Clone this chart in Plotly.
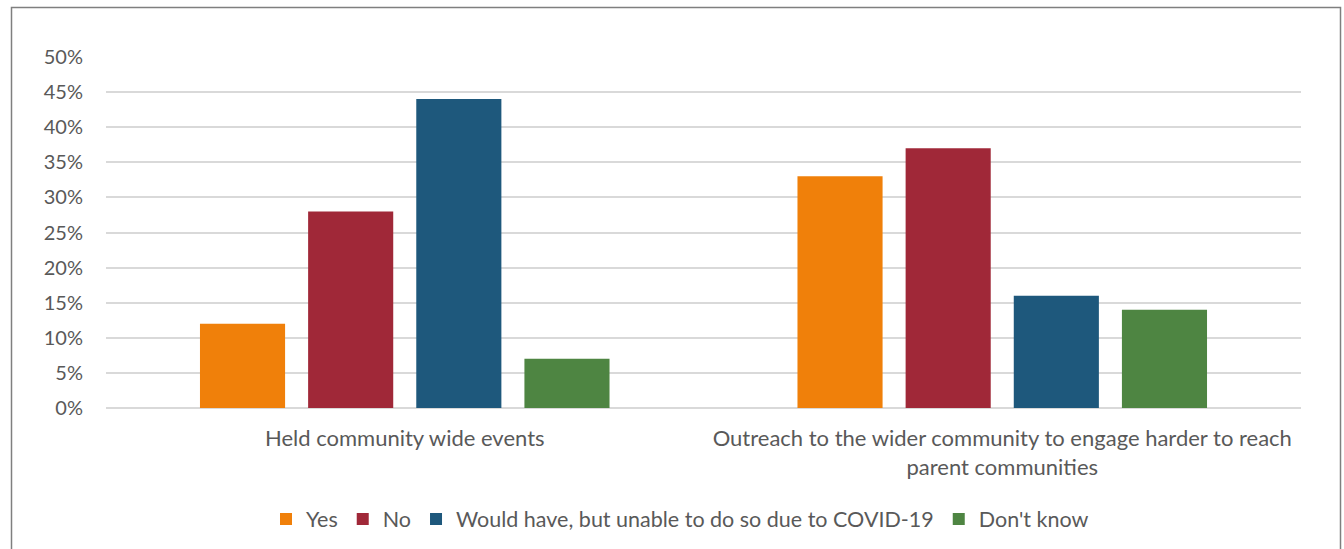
import plotly.graph_objects as go

categories = ["Held community wide events",
              "Outreach to the wider community to engage harder to reach<br>parent communities"]
series_names = ["Yes", "No", "Would have, but unable to do so due to COVID-19", "Don't know"]
yes_vals = [0.12, 0.33]
no_vals = [0.28, 0.37]
would_vals = [0.44, 0.16]
dontknow_vals = [0.07, 0.14]
colors = ["#F0800A", "#A02838", "#1E587C", "#4E8542"]

fig = go.Figure()
for name, vals, c in zip(series_names, [yes_vals, no_vals, would_vals, dontknow_vals], colors):
    fig.add_trace(go.Bar(x=categories, y=vals, name=name, marker=dict(color=c, line=dict(width=0))))

W, H = 1344, 549
l, r, t, b = 106, 43, 57, 141
pw, ph = W - l - r, H - t - b

def px(x):
    return (x - l) / pw

def py(y):
    return (H - b - y) / ph

fig.add_shape(type="rect", xref="paper", yref="paper",
              x0=px(11.5), x1=px(1340.5), y0=py(570), y1=py(7.5),
              line=dict(color="#7F7F7F", width=1.5), fillcolor="rgba(0,0,0,0)", layer="below")

fig.update_layout(
    width=W, height=H,
    margin=dict(l=l, r=r, t=t, b=b, autoexpand=False),
    paper_bgcolor="white", plot_bgcolor="white",
    barmode="group", bargap=0.276, bargroupgap=0.213,
    font=dict(family="Lato", size=21, color="#595959"),
    showlegend=True,
    legend=dict(orientation="h", x=px(680), xanchor="center", y=py(519), yanchor="middle",
                font=dict(size=21.5, color="#595959"), itemwidth=30, traceorder="normal"),
    xaxis=dict(showgrid=False, showline=False, ticks="", ticklabelstandoff=15,
               tickfont=dict(size=22, color="#595959")),
    yaxis=dict(range=[0, 0.5], dtick=0.05, tickformat=".0%", showgrid=True,
               gridcolor="#D9D9D9", gridwidth=1.5, zeroline=True, zerolinecolor="#D9D9D9",
               zerolinewidth=1.5, showline=False, ticks="", ticklabelstandoff=22,
               tickfont=dict(size=20, color="#595959")),
)

fig.write_html("out.html")
